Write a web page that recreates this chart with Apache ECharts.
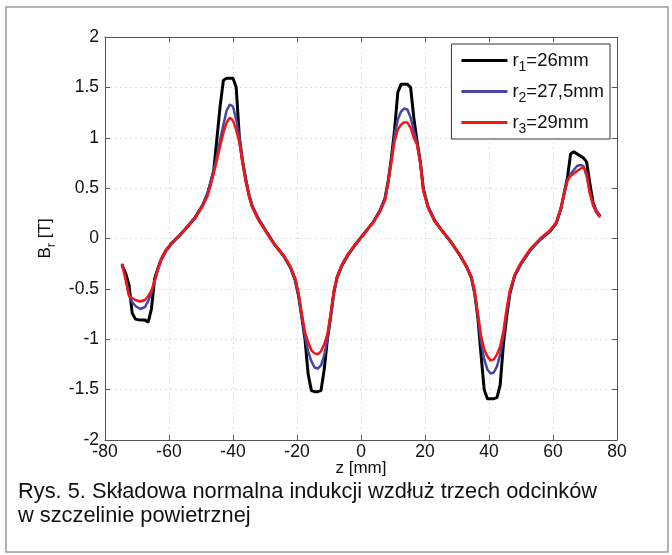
<!DOCTYPE html>
<html>
<head>
<meta charset="utf-8">
<script src="https://cdn.jsdelivr.net/npm/echarts@6/dist/echarts.min.js"></script>
<style>
  html, body { margin: 0; padding: 0; background: #fff; }
  #chart { width: 672px; height: 555px; }
</style>
</head>
<body>
<div id="chart"></div>
<script>
// z position along the air gap [mm]
const zPos = [
  -74.7, -73.5, -72.5, -71.5, -70.5, -69, -67.5, -66.5, -65.5, -64.5,
  -63.5, -62.5, -61, -59, -57, -55, -52, -49.5, -48, -47,
  -46, -45, -44, -43, -42, -41, -40, -39, -38, -37,
  -36, -35, -34, -32, -30, -27, -24, -22, -20.5, -19.5,
  -18.5, -17.5, -16.5, -15.5, -14.5, -13.5, -12.5, -11.5, -10.5, -9.5,
  -8.5, -7.5, -6, -4, -2, 0, 2, 4, 6, 7.5,
  8.5, 9.5, 10.5, 11.5, 12.5, 13.5, 14.5, 15.5, 16.5, 17.5,
  18.5, 19.5, 21, 23, 25, 28, 31, 33, 34.5, 35.5,
  36.5, 37.5, 38.5, 39.5, 40.5, 41.5, 42.5, 43.5, 44.5, 45.5,
  46.5, 48, 50, 53, 56, 59, 61, 62.5, 63.5, 64.5,
  65.5, 66.5, 67.5, 68.5, 69.5, 70.5, 71.5, 72.5, 73.5, 74.7
];

// Br [T] for r1 = 26mm
const brR1 = [
  -0.26, -0.35, -0.46, -0.74, -0.80, -0.81, -0.81, -0.83, -0.70, -0.40,
  -0.30, -0.21, -0.12, -0.04, 0.02, 0.09, 0.20, 0.33, 0.44, 0.55,
  0.68, 1.00, 1.32, 1.57, 1.59, 1.59, 1.59, 1.50, 1.00, 0.76,
  0.58, 0.43, 0.32, 0.19, 0.09, -0.06, -0.18, -0.29, -0.42, -0.57,
  -0.78, -1.00, -1.35, -1.51, -1.52, -1.52, -1.51, -1.30, -1.00, -0.78,
  -0.54, -0.39, -0.27, -0.16, -0.07, 0.01, 0.09, 0.17, 0.28, 0.40,
  0.57, 0.80, 1.08, 1.45, 1.53, 1.53, 1.53, 1.50, 1.20, 0.97,
  0.77, 0.49, 0.31, 0.18, 0.09, -0.03, -0.17, -0.28, -0.39, -0.54,
  -0.78, -1.15, -1.50, -1.59, -1.59, -1.59, -1.58, -1.45, -1.05, -0.78,
  -0.55, -0.37, -0.25, -0.11, -0.01, 0.07, 0.15, 0.30, 0.45, 0.60,
  0.84, 0.86, 0.84, 0.82, 0.80, 0.76, 0.55, 0.36, 0.27, 0.22
];

// Br [T] for r2 = 27,5mm
const brR2 = [
  -0.25, -0.40, -0.56, -0.63, -0.67, -0.70, -0.68, -0.62, -0.54, -0.43,
  -0.31, -0.22, -0.13, -0.05, 0.02, 0.09, 0.20, 0.33, 0.44, 0.56,
  0.68, 0.82, 0.98, 1.13, 1.27, 1.33, 1.31, 1.18, 1.00, 0.78,
  0.60, 0.44, 0.32, 0.19, 0.09, -0.06, -0.18, -0.29, -0.42, -0.57,
  -0.78, -0.97, -1.12, -1.22, -1.28, -1.29, -1.26, -1.16, -1.00, -0.78,
  -0.54, -0.39, -0.27, -0.16, -0.07, 0.01, 0.09, 0.17, 0.28, 0.40,
  0.57, 0.78, 1.02, 1.18, 1.26, 1.29, 1.28, 1.20, 1.07, 0.95,
  0.77, 0.49, 0.31, 0.18, 0.09, -0.03, -0.17, -0.28, -0.39, -0.54,
  -0.77, -1.02, -1.20, -1.30, -1.34, -1.33, -1.27, -1.15, -0.97, -0.74,
  -0.54, -0.37, -0.25, -0.11, -0.01, 0.07, 0.15, 0.30, 0.45, 0.58,
  0.64, 0.68, 0.72, 0.73, 0.72, 0.62, 0.46, 0.35, 0.28, 0.23
];

// Br [T] for r3 = 29mm
const brR3 = [
  -0.25, -0.42, -0.57, -0.59, -0.61, -0.625, -0.61, -0.57, -0.52, -0.42,
  -0.31, -0.21, -0.12, -0.04, 0.02, 0.09, 0.20, 0.32, 0.42, 0.53,
  0.65, 0.78, 0.92, 1.05, 1.15, 1.20, 1.17, 1.08, 0.95, 0.75,
  0.57, 0.42, 0.31, 0.18, 0.08, -0.06, -0.18, -0.28, -0.40, -0.55,
  -0.75, -0.93, -1.03, -1.11, -1.14, -1.15, -1.12, -1.05, -0.95, -0.75,
  -0.52, -0.38, -0.26, -0.15, -0.07, 0.01, 0.09, 0.17, 0.27, 0.38,
  0.55, 0.76, 0.97, 1.08, 1.13, 1.155, 1.15, 1.10, 1.00, 0.93,
  0.75, 0.47, 0.30, 0.17, 0.09, -0.03, -0.17, -0.28, -0.38, -0.52,
  -0.74, -0.96, -1.10, -1.17, -1.21, -1.20, -1.15, -1.07, -0.92, -0.70,
  -0.52, -0.36, -0.24, -0.10, 0.00, 0.08, 0.16, 0.30, 0.45, 0.57,
  0.62, 0.645, 0.67, 0.69, 0.71, 0.65, 0.45, 0.33, 0.26, 0.21
];

const seriesNames = ["r1", "r2", "r3"];
const legendLabels = {
  r1: "{n|r}{s|1}{n|=26mm}",
  r2: "{n|r}{s|2}{n|=27,5mm}",
  r3: "{n|r}{s|3}{n|=29mm}",
};
const caption = [
  "Rys. 5. Składowa normalna indukcji wzdłuż trzech odcinków",
  "w szczelinie powietrznej",
];

const font = "Liberation Sans, Arial, sans-serif";
const legendRich = {
  n: { fontFamily: font, fontSize: 18.5, color: "#111" },
  s: { fontFamily: font, fontSize: 14, color: "#111", padding: [13, 0, 0, 0] },
};
const nameRich = {
  n: { fontFamily: font, fontSize: 17, color: "#111" },
  s: { fontFamily: font, fontSize: 13, color: "#111", padding: [12, 0, 0, 0] },
};

const pairs = (vals) => zPos.map((z, i) => [z, vals[i]]);

const chart = echarts.init(document.getElementById("chart"), null, { renderer: "canvas" });

// top / right edges of the MATLAB style box
const frameAxis = {
  axisLine: { show: true, onZero: false, lineStyle: { color: "#555", width: 1 } },
  axisTick: { show: true, inside: true, length: 5, lineStyle: { color: "#555" } },
  axisLabel: { show: false },
  splitLine: { show: false },
};

const option = {
  backgroundColor: "#fff",
  animation: false,
  grid: { left: 105, right: 55, top: 37, bottom: 115, containLabel: false },
  legend: {
    data: seriesNames,
    orient: "vertical",
    right: 62,
    top: 44,
    icon: "rect",
    itemWidth: 46,
    itemHeight: 3,
    itemGap: 8,
    padding: [7, 6, 3, 10],
    backgroundColor: "#fff",
    borderColor: "#333",
    borderWidth: 1,
    borderRadius: 0,
    formatter: (name) => legendLabels[name],
    textStyle: { rich: legendRich },
  },
  xAxis: [
    {
      type: "value",
      min: -80,
      max: 80,
      interval: 20,
      name: "z [mm]",
      nameLocation: "middle",
      nameGap: 20,
      nameMoveOverlap: false,
      nameTextStyle: { fontFamily: font, fontSize: 17, color: "#111" },
      axisLine: { show: true, onZero: false, lineStyle: { color: "#555" } },
      axisTick: { show: true, inside: true, length: 5, lineStyle: { color: "#555" } },
      axisLabel: { fontFamily: font, fontSize: 17.5, color: "#111", margin: 3 },
      splitLine: { show: true, lineStyle: { color: "#dcdcdc", type: [2, 3], width: 1 } },
    },
    Object.assign({ type: "value", position: "top", min: -80, max: 80, interval: 20 }, frameAxis),
  ],
  yAxis: [
    {
      type: "value",
      min: -2,
      max: 2,
      interval: 0.5,
      name: "{n|B}{s|r}{n| [T]}",
      nameLocation: "middle",
      nameRotate: 90,
      nameGap: 47,
      nameTextStyle: { rich: nameRich },
      axisLine: { show: true, onZero: false, lineStyle: { color: "#555" } },
      axisTick: { show: true, inside: true, length: 5, lineStyle: { color: "#555" } },
      axisLabel: { fontFamily: font, fontSize: 17.5, color: "#111", margin: 6 },
      splitLine: { show: true, lineStyle: { color: "#dcdcdc", type: [2, 3], width: 1 } },
    },
    Object.assign({ type: "value", position: "right", min: -2, max: 2, interval: 0.5 }, frameAxis),
  ],
  series: [
    {
      name: "r1",
      type: "line",
      symbol: "none",
      color: "#000000",
      lineStyle: { width: 3, color: "#000000" },
      data: pairs(brR1),
    },
    {
      name: "r2",
      type: "line",
      symbol: "none",
      color: "#4646a8",
      lineStyle: { width: 2.5, color: "#4646a8" },
      data: pairs(brR2),
    },
    {
      name: "r3",
      type: "line",
      symbol: "none",
      color: "#f51515",
      lineStyle: { width: 2.5, color: "#f51515" },
      data: pairs(brR3),
    },
  ],
  graphic: [
    {
      type: "rect",
      shape: { x: 6, y: 7, width: 662, height: 545 },
      style: { fill: "none", stroke: "#9a9a9a", lineWidth: 1.5 },
      silent: true,
    },
    {
      type: "text",
      left: 18,
      top: 481,
      style: { text: caption[0], font: "21.8px " + font, fill: "#111" },
    },
    {
      type: "text",
      left: 18,
      top: 505,
      style: { text: caption[1], font: "21.8px " + font, fill: "#111" },
    },
  ],
};

chart.setOption(option);
</script>
</body>
</html>
